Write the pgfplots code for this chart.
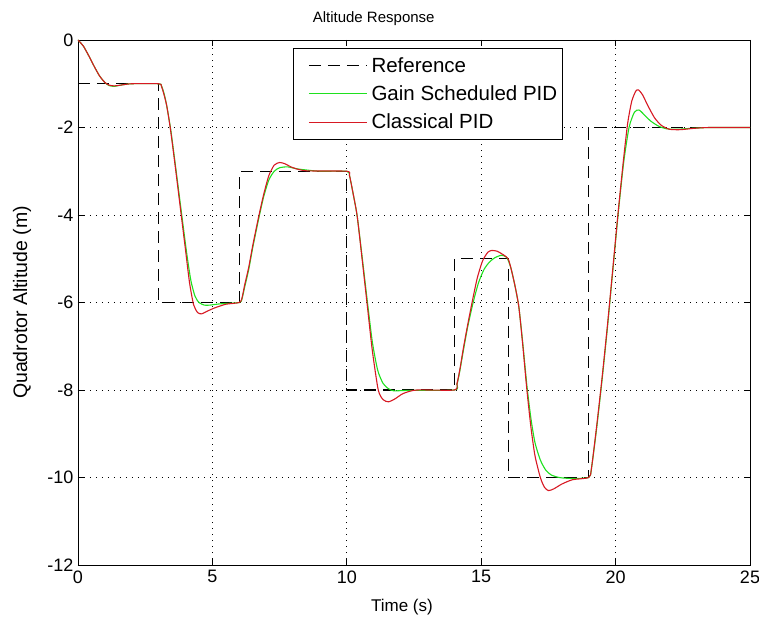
\documentclass[border=0pt]{standalone}
\usepackage{fontspec}
\setmainfont{Liberation Sans}
\usepackage{pgfplots}
\pgfplotsset{compat=1.18}
\definecolor{mgreen}{RGB}{30,225,30}
\definecolor{mred}{RGB}{215,25,35}
\begin{document}
\begin{tikzpicture}
\useasboundingbox (-78bp,-63bp) rectangle (681bp,565bp);
\begin{axis}[
  scale only axis, width=672bp, height=525bp,
  xmin=0, xmax=25, ymin=-12, ymax=0,
  xtick={0,5,10,15,20,25}, xticklabels={0,5,10,15,20,25},
  ytick={-12,-10,-8,-6,-4,-2,0}, yticklabels={-12,-10,-8,-6,-4,-2,0},
  grid=major,
  major grid style={black, line width=0.8bp, dash pattern=on 1.2bp off 4.8bp},
  tick align=inside, major tick length=6bp,
  axis line style={black, line width=0.9bp},
  tick style={black, line width=0.9bp},
  tick label style={font=\fontsize{18bp}{21bp}\selectfont},
  xticklabel style={yshift=-2bp},
  yticklabel style={xshift=-1bp},
  title={Altitude Response},
  title style={font=\fontsize{15bp}{18bp}\selectfont, at={(rel axis cs:0.44,1)}, anchor=base, yshift=12bp},
  xlabel={Time (s)},
  xlabel style={font=\fontsize{17bp}{20bp}\selectfont, at={(rel axis cs:0.482,0)}, anchor=center, yshift=-42bp},
  ylabel={Quadrotor Altitude (m)},
  ylabel style={font=\fontsize{19.5bp}{22bp}\selectfont, at={(axis description cs:-0.0833,0.5)}, anchor=center},
  legend style={at={(rel axis cs:0.32,0.985)}, anchor=north west, draw=black, line width=0.8bp, fill=white,
    font=\fontsize{20.5bp}{24bp}\selectfont, inner xsep=3bp, inner ysep=7bp, row sep=8bp},
  legend cell align=left,
  legend image code/.code={\path (0bp,0bp) (72bp,0bp); \draw[#1] (12bp,0bp) -- (70bp,0bp);},
]
\addplot[black, line width=1.1bp, dash pattern=on 12bp off 7bp] coordinates {
(0,-1) (3,-1) (3,-6) (6,-6) (6,-3) (10,-3) (10,-8) (14,-8) (14,-5) (16,-5) (16,-10) (19,-10) (19,-2) (25,-2)};
\addlegendentry{Reference}
\addplot[mgreen, line width=1.1bp, smooth, tension=0.4] coordinates {
(0,0) (0.2,-0.14) (0.4,-0.36) (0.6,-0.6) (0.8,-0.82) (1.0,-0.97) (1.15,-1.04) (1.35,-1.06) (1.6,-1.03) (2.0,-1.0) (3.0,-1.0)
(3.1,-1.04) (3.2,-1.22) (3.3,-1.5) (3.45,-2.05) (3.6,-2.75) (3.86,-4.0) (4.05,-4.9) (4.2,-5.5) (4.35,-5.85) (4.5,-6.0) (4.7,-6.06) (4.9,-6.06) (5.3,-6.03) (6.0,-6.0)
(6.1,-5.92) (6.2,-5.65) (6.35,-5.25) (6.5,-4.75) (6.7,-4.15) (6.9,-3.6) (7.1,-3.2) (7.3,-3.0) (7.5,-2.92) (7.8,-2.9) (8.2,-2.95) (9,-3.0) (10,-3.0)
(10.1,-3.1) (10.2,-3.4) (10.38,-4.0) (10.55,-4.85) (10.75,-5.9) (10.95,-6.9) (11.15,-7.55) (11.35,-7.85) (11.55,-7.97) (11.75,-8.02) (12.2,-8.01) (14,-8)
(14.1,-7.87) (14.2,-7.58) (14.35,-7.05) (14.5,-6.55) (14.7,-6.0) (14.9,-5.55) (15.1,-5.25) (15.3,-5.08) (15.5,-4.98) (15.75,-4.92) (15.95,-4.97)
(16.1,-5.2) (16.25,-5.6) (16.4,-6.1) (16.55,-6.95) (16.7,-7.9) (16.85,-8.65) (17.0,-9.2) (17.2,-9.6) (17.4,-9.83) (17.6,-9.94) (17.9,-10.0) (18.3,-10.02) (19,-10)
(19.1,-9.8) (19.3,-8.85) (19.5,-7.75) (19.7,-6.55) (19.9,-5.25) (20.1,-3.95) (20.3,-2.8) (20.5,-2.0) (20.7,-1.65) (20.87,-1.6) (21.05,-1.7) (21.3,-1.85) (21.6,-1.97) (21.9,-2.03) (22.3,-2.04) (22.8,-2.02) (23.5,-2.0) (25,-2.0)};
\addlegendentry{Gain Scheduled PID}
\addplot[mred, line width=1.1bp, smooth, tension=0.4] coordinates {
(0,0) (0.2,-0.14) (0.4,-0.36) (0.6,-0.6) (0.8,-0.82) (1.0,-0.97) (1.15,-1.03) (1.35,-1.05) (1.6,-1.03) (2.0,-1.0) (3.0,-1.0)
(3.1,-1.05) (3.2,-1.25) (3.3,-1.5) (3.43,-2.0) (3.6,-2.8) (3.84,-4.0) (4.0,-4.8) (4.15,-5.55) (4.3,-6.05) (4.45,-6.23) (4.6,-6.26) (4.8,-6.2) (5.1,-6.12) (5.5,-6.04) (6.0,-6.0)
(6.1,-5.9) (6.2,-5.6) (6.35,-5.2) (6.5,-4.7) (6.7,-4.1) (6.9,-3.55) (7.1,-3.1) (7.3,-2.86) (7.5,-2.8) (7.7,-2.83) (8.0,-2.92) (8.5,-2.99) (10,-3)
(10.1,-3.1) (10.2,-3.4) (10.38,-4.0) (10.55,-4.9) (10.75,-6.0) (10.95,-7.1) (11.17,-8.0) (11.35,-8.22) (11.55,-8.27) (11.8,-8.2) (12.1,-8.08) (12.6,-8.0) (14,-8)
(14.1,-7.85) (14.2,-7.55) (14.35,-7.0) (14.5,-6.5) (14.66,-6.0) (14.85,-5.45) (15.05,-5.05) (15.25,-4.85) (15.4,-4.81) (15.6,-4.83) (15.85,-4.92) (16.0,-5.0)
(16.1,-5.2) (16.25,-5.6) (16.4,-6.1) (16.55,-7.0) (16.7,-8.0) (16.85,-8.85) (17.0,-9.5) (17.2,-10.0) (17.35,-10.22) (17.5,-10.3) (17.7,-10.26) (18.0,-10.15) (18.4,-10.05) (19,-10)
(19.1,-9.8) (19.3,-8.8) (19.5,-7.7) (19.7,-6.5) (19.9,-5.2) (20.1,-3.9) (20.3,-2.7) (20.45,-1.9) (20.6,-1.4) (20.75,-1.17) (20.85,-1.14) (21.0,-1.25) (21.2,-1.5) (21.45,-1.78) (21.7,-1.95) (22.0,-2.04) (22.4,-2.05) (22.9,-2.02) (23.5,-2.0) (25,-2.0)};
\addlegendentry{Classical PID}
\end{axis}
\end{tikzpicture}
\end{document}
